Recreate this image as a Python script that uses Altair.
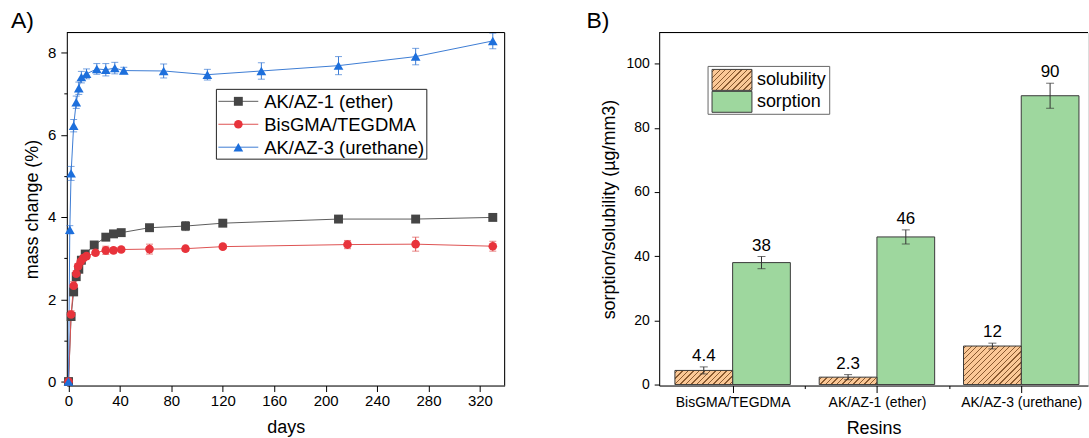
import altair as alt
import pandas as pd

FONT = "Liberation Sans"

# ---------------- Panel A data ----------------
series_names = ["AK/AZ-1 (ether)", "BisGMA/TEGDMA", "AK/AZ-3 (urethane)"]

ak1_days = [0, 2, 4, 6, 8, 10, 13, 20, 29, 35, 41, 63, 91, 120, 210, 270, 330]
ak1_mass = [0.0, 1.58, 2.18, 2.55, 2.73, 2.95, 3.10, 3.32, 3.51, 3.59, 3.62, 3.74, 3.78, 3.85, 3.95, 3.95, 3.99]
ak1_err = [0.02, 0.07, 0.09, 0.06, 0.05, 0.05, 0.05, 0.06, 0.05, 0.08, 0.07, 0.05, 0.11, 0.04, 0.04, 0.04, 0.04]

bis_days = [0, 2, 4, 6, 7.5, 9.5, 11.5, 14, 21, 29, 35, 41, 63, 91, 120, 217, 270, 330]
bis_mass = [0.0, 1.63, 2.33, 2.62, 2.80, 2.92, 3.00, 3.05, 3.13, 3.19, 3.19, 3.21, 3.22, 3.23, 3.28, 3.33, 3.34, 3.29]
bis_err = [0.02, 0.09, 0.10, 0.08, 0.06, 0.06, 0.06, 0.06, 0.05, 0.10, 0.06, 0.05, 0.12, 0.06, 0.05, 0.10, 0.17, 0.12]

ak3_days = [0, 1, 2, 4, 6, 8, 10, 14, 22, 29, 36, 43, 74, 108, 150, 210, 270, 330]
ak3_mass = [0.0, 3.69, 5.06, 6.22, 6.79, 7.13, 7.40, 7.48, 7.60, 7.58, 7.62, 7.56, 7.55, 7.46, 7.55, 7.68, 7.90, 8.28]
ak3_err = [0.02, 0.10, 0.17, 0.15, 0.15, 0.15, 0.14, 0.12, 0.13, 0.15, 0.14, 0.08, 0.17, 0.13, 0.20, 0.22, 0.20, 0.19]

# ---------------- Panel B data ----------------
resins = ["BisGMA/TEGDMA", "AK/AZ-1 (ether)", "AK/AZ-3 (urethane)"]
solubility = [4.4, 2.3, 12]
solubility_err = [1.1, 0.8, 0.9]
sorption = [38, 46, 90]
sorption_err = [1.9, 2.2, 3.9]
bar_types = ["solubility", "sorption"]

# ---------------- build tables ----------------
rowsA = []
for name, dd, vv, ee in [
    (series_names[0], ak1_days, ak1_mass, ak1_err),
    (series_names[1], bis_days, bis_mass, bis_err),
    (series_names[2], ak3_days, ak3_mass, ak3_err),
]:
    for d, v, e in zip(dd, vv, ee):
        rowsA.append({"series": name, "day": d, "mass": v, "err": e})
dfA = pd.DataFrame(rowsA)

rowsB = []
for i, r in enumerate(resins):
    rowsB.append({"resin": r, "pos": i + 1, "type": "solubility", "value": solubility[i], "err": solubility_err[i]})
    rowsB.append({"resin": r, "pos": i + 1, "type": "sorption", "value": sorption[i], "err": sorption_err[i]})
dfB = pd.DataFrame(rowsB)

# ---------------- styles ----------------
marker_colors = ["#454545", "#e8333b", "#1d6fdc"]
line_colors = ["#5c5c5c", "#de5252", "#3d7cd4"]
err_colors = ["#6a6a6a", "#d96b6b", "#6b97d6"]
SOL_BG, SOL_FG, SORP = "#fbc896", "#8a5a30", "#9ed79e"

W_A, H_A = 439, 354
XA_DOM = [-1.32, 339.2]
YA_DOM = [-0.097, 8.485]

W_B, H_B = 430, 354
XB_DOM = [0.491, 0.491 + 430 / 144.7]
YB_DOM = [-0.31, 109.7]

axis_common = dict(domainColor="black", tickColor="black", labelColor="black",
                   titleColor="black", grid=False, labelFont=FONT, titleFont=FONT,
                   titleFontWeight="normal", domainWidth=1, tickWidth=1)

xA_axis = alt.Axis(values=list(range(0, 340, 20)),
                   labelExpr="datum.value % 40 === 0 ? datum.label : ''",
                   tickSize={"condition": {"test": "datum.value % 40 === 0", "value": 6}, "value": 3},
                   labelFontSize=15, titleFontSize=18, labelPadding=2, titlePadding=10,
                   labelFlush=False, labelOverlap=False, **axis_common)
yA_axis = alt.Axis(values=list(range(0, 9)),
                   labelExpr="datum.value % 2 === 0 ? datum.label : ''",
                   tickSize={"condition": {"test": "datum.value % 2 === 0", "value": 6}, "value": 3},
                   labelFontSize=15, titleFontSize=18, labelPadding=5, titlePadding=6,
                   labelOverlap=False, **axis_common)

xA_scale = alt.Scale(domain=XA_DOM, nice=False, zero=False)
yA_scale = alt.Scale(domain=YA_DOM, nice=False, zero=False)
xA = alt.X("day:Q", scale=xA_scale, axis=xA_axis, title="days")
yA = alt.Y("mass:Q", scale=yA_scale, axis=yA_axis, title="mass change (%)")

baseA = alt.Chart(dfA)

lines = baseA.mark_line(strokeWidth=1).encode(
    x=xA, y=yA,
    color=alt.Color("series:N", scale=alt.Scale(domain=series_names, range=line_colors), legend=None),
    order="day:Q",
)

errA = baseA.transform_calculate(lo="datum.mass - datum.err", hi="datum.mass + datum.err")
err_color = alt.Color("series:N", scale=alt.Scale(domain=series_names, range=err_colors), legend=None)
errA_rule = errA.mark_rule(strokeWidth=1).encode(x=xA, y=alt.Y("lo:Q"), y2="hi:Q", color=err_color)
errA_top = errA.mark_tick(orient="horizontal", size=7, thickness=1).encode(x=xA, y=alt.Y("hi:Q"), color=err_color)
errA_bot = errA.mark_tick(orient="horizontal", size=7, thickness=1).encode(x=xA, y=alt.Y("lo:Q"), color=err_color)

shapes = ["square", "circle", "triangle-up"]
sizes = [80, 75, 95]
point_layers = []
for name, shp, sz, col in zip(series_names, shapes, sizes, marker_colors):
    point_layers.append(
        baseA.transform_filter(alt.datum.series == name)
        .mark_point(shape=shp, size=sz, filled=True, opacity=1, color=col)
        .encode(x=xA, y=yA)
    )

one = alt.Chart(alt.InlineData(values=[{"k": 1}]))

# legend box for panel A (decoration, placed in pixels inside the plot area)
legA_layers = [one.mark_rect(fill="white", stroke="#222222", strokeWidth=1).encode(
    x=alt.value(150), x2=alt.value(361), y=alt.value(57), y2=alt.value(127))]
for i, (name, shp, sz, col, lcol) in enumerate(zip(series_names, shapes, sizes, marker_colors, line_colors)):
    yy = 69 + 23 * i
    legA_layers.append(one.mark_rule(color=lcol, strokeWidth=1).encode(
        x=alt.value(152), x2=alt.value(192), y=alt.value(yy)))
    legA_layers.append(one.mark_point(shape=shp, size=sz, filled=True, opacity=1, color=col).encode(
        x=alt.value(172), y=alt.value(yy)))
    legA_layers.append(one.mark_text(align="left", baseline="middle", fontSize=18.5, font=FONT,
                                     color="black").encode(
        x=alt.value(198), y=alt.value(yy + 1), text=alt.value(name)))

frameA_top = one.mark_rule(color="black", strokeWidth=1).encode(y=alt.Y(datum=YA_DOM[1], scale=yA_scale))
frameA_right = one.mark_rule(color="black", strokeWidth=1).encode(x=alt.X(datum=XA_DOM[1], scale=xA_scale))

panelA = alt.layer(lines, errA_rule, errA_top, errA_bot, *point_layers, *legA_layers,
                   frameA_top, frameA_right).properties(
    width=W_A, height=H_A,
    title=alt.TitleParams("A)", anchor="start", frame="group", fontSize=23, fontWeight="normal",
                          font=FONT, color="black", dx=-56, dy=3, offset=2),
)

# ---------------- Panel B ----------------
label_expr = " : ".join(
    [f"datum.value === {i + 1} ? '{r}'" for i, r in enumerate(resins)]) + " : ''"
xB_axis = alt.Axis(values=[1, 1.5, 2, 2.5, 3], labelExpr=label_expr,
                   tickSize={"condition": {"test": "datum.value % 1 === 0", "value": 7}, "value": 3},
                   labelFontSize=14, titleFontSize=18, labelPadding=3, titlePadding=10,
                   labelFlush=False, labelOverlap=False, **axis_common)
yB_axis = alt.Axis(values=list(range(0, 110, 10)),
                   labelExpr="datum.value % 20 === 0 ? datum.label : ''",
                   tickSize={"condition": {"test": "datum.value % 20 === 0", "value": 5}, "value": 3},
                   labelFontSize=14, titleFontSize=18, labelPadding=5, titlePadding=7,
                   labelOverlap=False, **axis_common)
xB_scale = alt.Scale(domain=XB_DOM, nice=False, zero=False)
yB_scale = alt.Scale(domain=YB_DOM, nice=False, zero=False)

baseB = alt.Chart(dfB).transform_calculate(
    x0="datum.type === 'solubility' ? datum.pos - 0.4 : datum.pos",
).transform_calculate(
    x1="datum.x0 + 0.4", xc="datum.x0 + 0.2",
    lo="datum.value - datum.err", hi="datum.value + datum.err",
)

xB0 = alt.X("x0:Q", scale=xB_scale, axis=xB_axis, title="Resins")
yBv = alt.Y("value:Q", scale=yB_scale, axis=yB_axis, title="sorption/solubility (µg/mm3)")

sorption_bars = baseB.transform_filter(alt.datum.type == "sorption").mark_rect(
    fill=SORP, stroke="#3a3a3a", strokeWidth=1).encode(
    x=xB0, x2="x1:Q", y=yBv, y2=alt.Y2(datum=0))


def hatch_gradient(w, h, period=5.5, lw=1.3, bg=SOL_BG, fg=SOL_FG):
    L = w + h
    stops = [alt.GradientStop(offset=0, color=bg)]
    c = period / 2
    while c - lw / 2 < L:
        a = max(0.0, (c - lw / 2) / L)
        b = min(1.0, (c + lw / 2) / L)
        stops += [alt.GradientStop(offset=a, color=bg), alt.GradientStop(offset=a, color=fg),
                  alt.GradientStop(offset=b, color=fg), alt.GradientStop(offset=b, color=bg)]
        c += period
    stops.append(alt.GradientStop(offset=1, color=bg))
    k = L / (w * w + h * h)
    return alt.LinearGradient(gradient="linear", stops=stops, x1=0, y1=0, x2=w * k, y2=h * k)


px_per_x = W_B / (XB_DOM[1] - XB_DOM[0])
px_per_y = H_B / (YB_DOM[1] - YB_DOM[0])
hatch_layers = []
for r, v in zip(resins, solubility):
    grad = hatch_gradient(0.4 * px_per_x, v * px_per_y)
    hatch_layers.append(
        baseB.transform_filter((alt.datum.type == "solubility") & (alt.datum.resin == r))
        .mark_rect(fill=grad, stroke="#3a3a3a", strokeWidth=1)
        .encode(x=xB0, x2="x1:Q", y=yBv, y2=alt.Y2(datum=0))
    )

errB_rule = baseB.mark_rule(color="#333333", strokeWidth=1).encode(
    x=alt.X("xc:Q", scale=xB_scale), y=alt.Y("lo:Q", scale=yB_scale), y2="hi:Q")
errB_top = baseB.mark_tick(orient="horizontal", size=8, thickness=1, color="#333333").encode(
    x=alt.X("xc:Q", scale=xB_scale), y=alt.Y("hi:Q", scale=yB_scale))
errB_bot = baseB.mark_tick(orient="horizontal", size=8, thickness=1, color="#333333").encode(
    x=alt.X("xc:Q", scale=xB_scale), y=alt.Y("lo:Q", scale=yB_scale))

textB = baseB.mark_text(fontSize=17, font=FONT, color="black", baseline="alphabetic", dy=-6).encode(
    x=alt.X("xc:Q", scale=xB_scale), y=alt.Y("hi:Q", scale=yB_scale),
    text=alt.Text("value:Q", format="~g"))

# legend box for panel B (decoration, placed in pixels inside the plot area)
legB_layers = [one.mark_rect(fill="white", stroke="#666666", strokeWidth=1).encode(
    x=alt.value(49), x2=alt.value(171), y=alt.value(34), y2=alt.value(82))]
swatch_fills = [hatch_gradient(40, 21), SORP]
for i, (t, f) in enumerate(zip(bar_types, swatch_fills)):
    y0 = 37 + 22 * i
    legB_layers.append(one.mark_rect(fill=f, stroke="#3a3a3a", strokeWidth=1).encode(
        x=alt.value(53), x2=alt.value(93), y=alt.value(y0), y2=alt.value(y0 + 21)))
    legB_layers.append(one.mark_text(align="left", baseline="middle", fontSize=18, font=FONT,
                                     color="black").encode(
        x=alt.value(98), y=alt.value(y0 + 11), text=alt.value(t)))

frameB_top = one.mark_rule(color="black", strokeWidth=1).encode(y=alt.Y(datum=YB_DOM[1], scale=yB_scale))

panelB = alt.layer(sorption_bars, *hatch_layers, errB_rule, errB_top, errB_bot, textB,
                   *legB_layers, frameB_top).properties(
    width=W_B, height=H_B,
    title=alt.TitleParams("B)", anchor="start", frame="group", fontSize=23, fontWeight="normal",
                          font=FONT, color="black", dx=-73, dy=3, offset=2),
)

chart = alt.hconcat(panelA, panelB, spacing=80).resolve_scale(
    color="independent", x="independent", y="independent",
).properties(
    padding={"left": 10, "top": 9, "right": 0, "bottom": 0}
).configure_view(strokeOpacity=0).configure(font=FONT)

chart.save("out.html", embed_options={"renderer": "svg", "actions": False})
